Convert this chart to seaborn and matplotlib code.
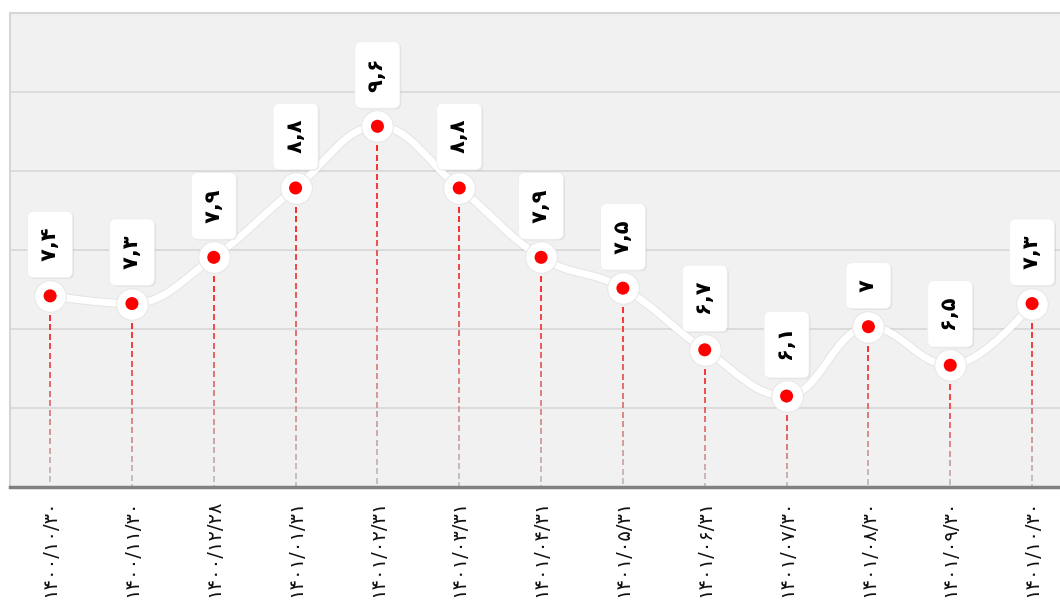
import numpy as np
import pandas as pd
import seaborn as sns
import matplotlib.pyplot as plt
import matplotlib.patheffects as pe
from matplotlib.path import Path
from matplotlib.patches import PathPatch
from matplotlib.collections import LineCollection
from matplotlib.colors import to_rgb

# Data
dates = ["۱۴۰۰/۱۰/۳۰", "۱۴۰۰/۱۱/۳۰", "۱۴۰۰/۱۲/۲۸", "۱۴۰۱/۰۱/۳۱", "۱۴۰۱/۰۲/۳۱",
         "۱۴۰۱/۰۳/۳۱", "۱۴۰۱/۰۴/۳۱", "۱۴۰۱/۰۵/۳۱", "۱۴۰۱/۰۶/۳۱", "۱۴۰۱/۰۷/۳۰",
         "۱۴۰۱/۰۸/۳۰", "۱۴۰۱/۰۹/۳۰", "۱۴۰۱/۱۰/۳۰"]
values = [7.4, 7.3, 7.9, 8.8, 9.6, 8.8, 7.9, 7.5, 6.7, 6.1, 7.0, 6.5, 7.3]
value_labels = ["۷,۴", "۷,۳", "۷,۹", "۸,۸", "۹,۶", "۸,۸", "۷,۹", "۷,۵", "۶,۷", "۶,۱", "۷", "۶,۵", "۷,۳"]

df = pd.DataFrame({"idx": np.arange(len(values)), "value": values})

sns.set_style("white")
plt.rcParams["font.family"] = ["DejaVu Sans"]

fig = plt.figure(figsize=(10.6, 6), dpi=100)
# plot area spills past the right edge like the original
ax = fig.add_axes([10 / 1060, 113 / 600, 1063 / 1060, 474 / 600])
ax.set_facecolor("#f1f1f1")
ax.set_xlim(-0.49, 12.5)
y0, y1 = 4.92, 11.07
ax.set_ylim(y0, y1)
ax.set_yticks(y0 + 1.025 * np.arange(1, 6))
ax.tick_params(axis="y", length=0, labelleft=False)
ax.grid(axis="y", color="#d9d9d9", linewidth=1.3)
ax.set_axisbelow(True)

for side in ["top", "left", "right"]:
    ax.spines[side].set_color("#d6d6d6")
    ax.spines[side].set_linewidth(1.5)
ax.spines["bottom"].set_color("#808080")
ax.spines["bottom"].set_linewidth(2.5)

ax.set_xticks(df["idx"])
ax.set_xticklabels(dates, rotation=90, fontsize=14, color="#111111")
ax.tick_params(axis="x", direction="in", length=4, color="#cccccc", pad=9)
ax.set_xlabel("")
ax.set_ylabel("")

# dashed drop lines fading from red to grey
px_per_unit = 474 / (y1 - y0)
on, off = 6 / px_per_unit, 3.5 / px_per_unit
red, grey = np.array(to_rgb("#ff1a1a")), np.array(to_rgb("#c4c4c4"))
segs, cols = [], []
for x, v in zip(df["idx"], df["value"]):
    y = v
    while y > y0:
        y2 = max(y - on, y0)
        t = (v - (y + y2) / 2) / (v - y0)
        segs.append([(x, y), (x, y2)])
        cols.append(red * (1 - t) + grey * t)
        y = y2 - off
ax.add_collection(LineCollection(segs, colors=cols, linewidths=1.4, zorder=2))


# smooth spline path (bezier control points from neighbouring points)
def spline_path(xs, ys, smoothing=1.5):
    n = len(xs)
    lc, rc = [None] * n, [None] * n
    d = smoothing + 1
    for i in range(1, n - 1):
        px, py = xs[i], ys[i]
        lx, ly = xs[i - 1], ys[i - 1]
        nx, ny = xs[i + 1], ys[i + 1]
        lcx, lcy = (smoothing * px + lx) / d, (smoothing * py + ly) / d
        rcx, rcy = (smoothing * px + nx) / d, (smoothing * py + ny) / d
        corr = ((rcy - lcy) * (rcx - px)) / (rcx - lcx) + py - rcy
        lcy += corr
        rcy += corr
        if lcy > ly and lcy > py:
            lcy = max(ly, py); rcy = 2 * py - lcy
        elif lcy < ly and lcy < py:
            lcy = min(ly, py); rcy = 2 * py - lcy
        if rcy > ny and rcy > py:
            rcy = max(ny, py); lcy = 2 * py - rcy
        elif rcy < ny and rcy < py:
            rcy = min(ny, py); lcy = 2 * py - rcy
        lc[i], rc[i] = (lcx, lcy), (rcx, rcy)
    verts, codes = [(xs[0], ys[0])], [Path.MOVETO]
    for i in range(1, n):
        c1 = rc[i - 1] if rc[i - 1] else (xs[i - 1], ys[i - 1])
        c2 = lc[i] if lc[i] else (xs[i], ys[i])
        verts += [c1, c2, (xs[i], ys[i])]
        codes += [Path.CURVE4] * 3
    return Path(verts, codes)


line = PathPatch(spline_path(list(df["idx"]), list(df["value"])), fc="none", ec="white",
                 lw=5, zorder=3, capstyle="round")
line.set_path_effects([pe.Stroke(linewidth=6.5, foreground="#000000", alpha=0.05), pe.Normal()])
ax.add_patch(line)

# halos and red markers
sns.scatterplot(data=df, x="idx", y="value", s=520, color="white", edgecolor="#e8e8e8",
                linewidth=0.8, zorder=4, ax=ax, legend=False)
sns.scatterplot(data=df, x="idx", y="value", s=88, color="#ff0000", edgecolor="none",
                zorder=5, ax=ax, legend=False)

# value labels in rounded white boxes
box = "round,pad=0.6,rounding_size=0.3"
for x, v, lab in zip(df["idx"], df["value"], value_labels):
    txt = "\u2009" + lab + "\u2009"
    ax.annotate(txt, (x, v), xytext=(1.0, 21.2), textcoords="offset points",
                rotation=90, ha="center", va="bottom", fontsize=15, fontweight="bold",
                color=(0, 0, 0, 0), zorder=6,
                bbox=dict(boxstyle=box, fc="#000000", ec="none", alpha=0.07))
    ax.annotate(txt, (x, v), xytext=(0, 22.0), textcoords="offset points",
                rotation=90, ha="center", va="bottom", fontsize=15, fontweight="bold",
                color="#000000", zorder=7,
                bbox=dict(boxstyle=box, fc="white", ec="#eeeeee", lw=0.6))

fig.savefig("out.png", dpi=100, facecolor="white")
